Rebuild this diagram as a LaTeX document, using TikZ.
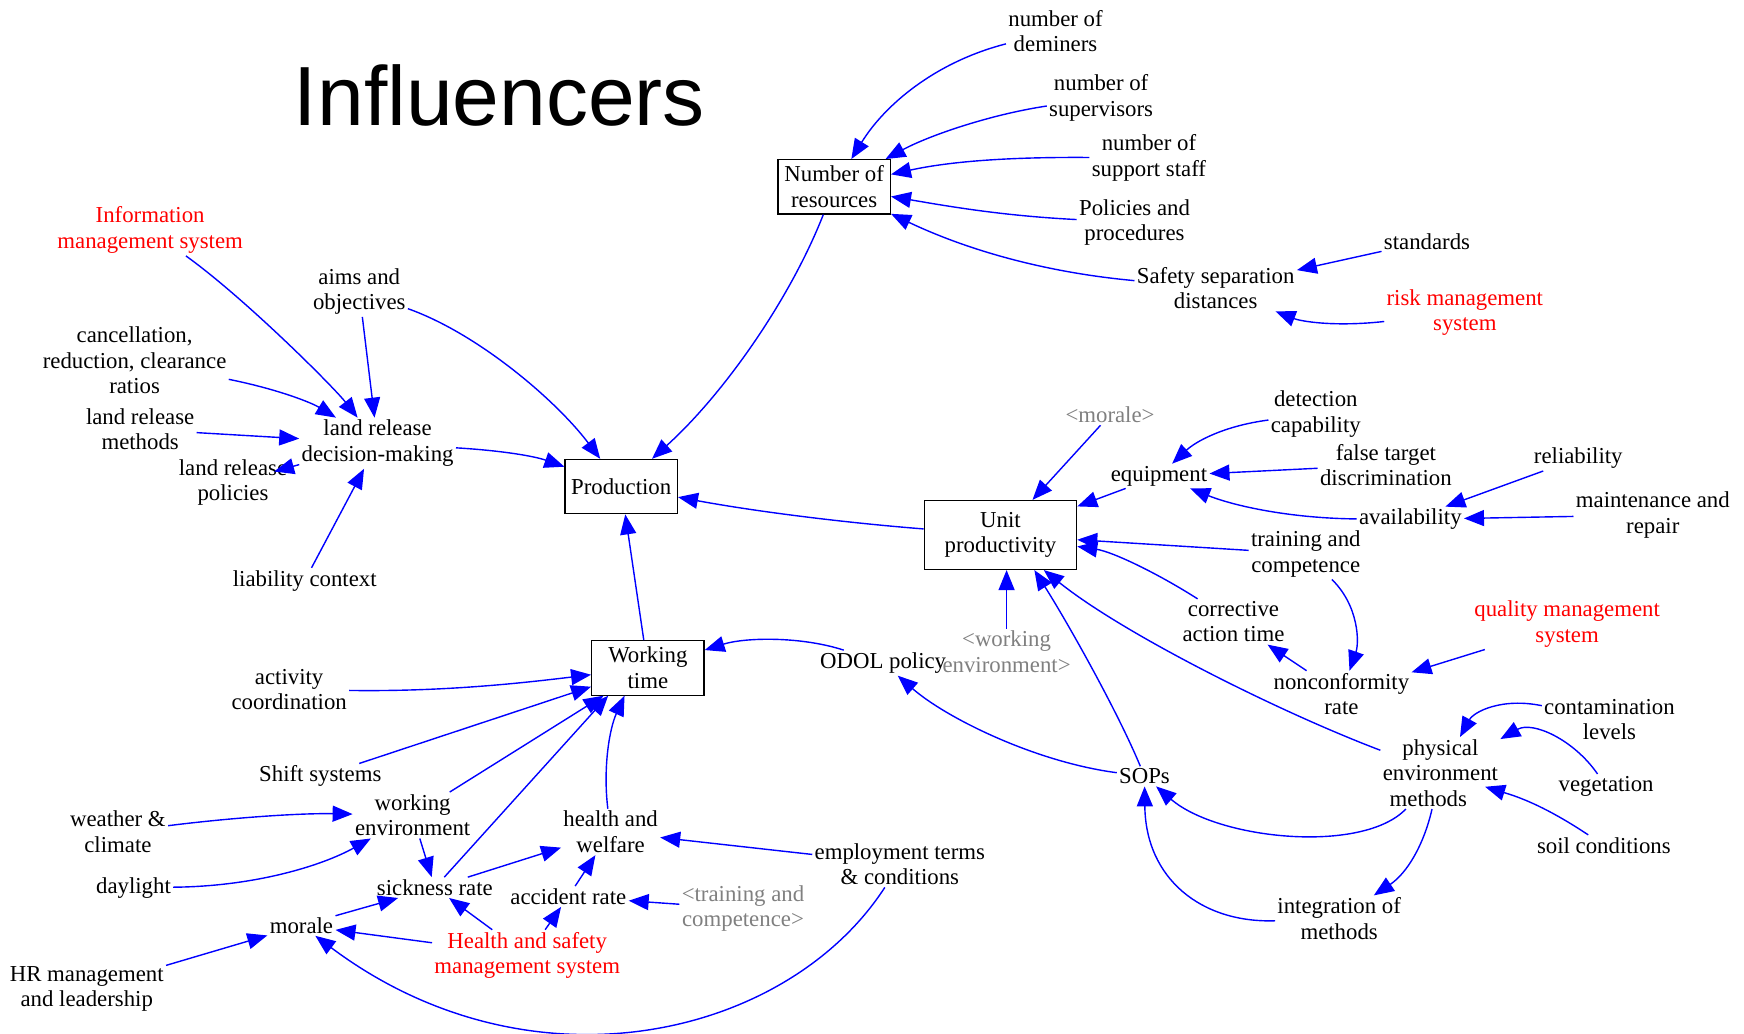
\documentclass[tikz,border=0pt]{standalone}
\usepackage{fontspec}
\setmainfont{Liberation Serif}
\newfontfamily\titlefont{Liberation Sans}
\usetikzlibrary{arrows.meta,calc}
\definecolor{lnk}{RGB}{0,0,255}
\definecolor{redtxt}{RGB}{255,0,0}
\definecolor{graytxt}{RGB}{128,128,128}
\tikzset{
 txt/.style={align=center, inner sep=1pt, font=\fontsize{11.4}{12.8}\selectfont},
 redt/.style={txt, text=redtxt},
 grayt/.style={txt, text=graytxt},
 box/.style={txt, draw, line width=0.6pt, minimum width=56.2pt, minimum height=27.2pt, inner sep=2pt},
 arr/.style={draw=lnk, line width=0.7pt, -{Triangle[length=10pt,width=8pt]}},
}
\begin{document}
\begin{tikzpicture}[x=0.5561pt, y=-0.5561pt]
\fill[white] (0,0) rectangle (1568,929);
\useasboundingbox (0,0) rectangle (1568,929);

\node[anchor=base, inner sep=0pt, font=\titlefont\fontsize{42}{48}\selectfont] (title) at (449,113) {Influencers};

% top cluster
\node[box] (nr) at (750,168) {Number of\\resources};
\node[txt] (dem) at (949,28) {number of\\deminers};
\node[txt] (sup) at (990,88) {number of\\supervisors};
\node[txt] (sst) at (1033,142) {number of\\support staff};
\node[txt] (pol) at (1020,200) {Policies and\\procedures};
\node[txt] (ssd) at (1093,259) {Safety separation\\distances};
\node[txt] (std) at (1283,217) {standards};
\node[redt] (rms) at (1317,281) {risk management\\system};

% left cluster
\node[redt] (ims) at (135,207) {Information\\management system};
\node[txt] (aims) at (323,262) {aims and\\objectives};
\node[txt] (canc) at (121,324) {cancellation,\\reduction, clearance\\ratios};
\node[txt] (lrm) at (126,386) {land release\\methods};
\node[txt] (lrp) at (209.5,434) {land release\\policies};
\node[txt] (lrdm) at (339.5,398.5) {land release\\decision-making};
\node[txt] (liab) at (274,522) {liability context};

\node[box] (prod) at (558.5,437.5) {Production};
\node[box, minimum width=76.2pt, minimum height=34.5pt] (up) at (899.5,481) {Unit\\productivity};
\node[box] (wt) at (582.5,600.5) {Working\\time};

% right cluster
\node[grayt] (morale2) at (998,373) {<morale>};
\node[txt] (equip) at (1042,428) {equipment};
\node[txt] (det) at (1183,372) {detection\\capability};
\node[txt] (ftd) at (1246,418) {false target\\discrimination};
\node[txt] (rel) at (1419,412) {reliability};
\node[txt] (avail) at (1268,467) {availability};
\node[txt] (mr) at (1486,463) {maintenance and\\repair};
\node[txt] (tc) at (1174,498) {training and\\competence};
\node[txt] (cat) at (1109,559) {corrective\\action time};
\node[redt] (qms) at (1409,561) {quality management\\system};
\node[txt] (ncr) at (1206,624) {nonconformity\\rate};
\node[grayt] (we2) at (905,586) {<working\\environment>};
\node[txt] (odol) at (794,596) {ODOL policy};
\node[txt] (sops) at (1029,698) {SOPs};
\node[txt] (pem) at (1295,695) {physical\\environment\\methods\hspace*{12pt}};
\node[txt] (cl) at (1447,647) {contamination\\levels};
\node[txt] (veg) at (1444,707) {vegetation};
\node[txt] (soil) at (1442,760) {soil conditions};
\node[txt] (iom) at (1204,826) {integration of\\methods};

% bottom-left cluster
\node[txt] (ac) at (260,620) {activity\\coordination};
\node[txt] (shift) at (288,698) {Shift systems};
\node[txt] (wenv) at (371,733) {working\\environment};
\node[txt] (wc) at (106,748) {weather \&\\climate};
\node[txt] (day) at (120,798) {daylight};
\node[txt] (sick) at (391,798) {sickness rate};
\node[txt] (hw) at (549,748) {health and\\welfare};
\node[txt] (etc) at (809,777) {employment terms\\\& conditions};
\node[txt] (acc) at (511,806) {accident rate};
\node[grayt] (tc2) at (668,817) {<training and\\competence>};
\node[txt] (mor) at (271,832) {morale};
\node[redt] (hs) at (474,859) {Health and safety\\management system};
\node[txt] (hr) at (78,889) {HR management\\and leadership};

% edges: top cluster
\draw[arr] (dem) .. controls (840,56) and (795,95) .. (nr);
\draw[arr] (sup) .. controls (890,103) and (835,122) .. (nr);
\draw[arr] (sst) .. controls (900,141) and (850,146) .. (nr);
\draw[arr] (pol) .. controls (900,194) and (850,185) .. (nr);
\draw[arr] (ssd) .. controls (940,245) and (870,225) .. (nr);
\draw[arr] (std) -- (ssd);
\draw[arr] (rms) .. controls (1200,294) and (1170,289) .. (ssd);
\draw[arr] (nr) .. controls (710,270) and (650,355) .. (prod);

% edges: left cluster
\draw[arr] (ims) .. controls (220,268) and (300,348) .. (lrdm);
\draw[arr] (aims) -- (lrdm);
\draw[arr] (canc) .. controls (250,350) and (280,362) .. (lrdm);
\draw[arr] (lrm) -- (lrdm);
\draw[arr, shorten >=-8pt] (lrdm) -- (lrp);
\draw[arr] (liab) -- (lrdm);
\draw[arr] (aims) .. controls (430,300) and (500,360) .. (prod);
\draw[arr] (lrdm) .. controls (450,405) and (480,410) .. (prod);

\draw[arr] (up) .. controls (760,470) and (680,460) .. (prod);
\draw[arr] (wt) -- (prod);

% edges: right cluster
\draw[arr] (morale2) -- (up);
\draw[arr] (equip) -- (up);
\draw[arr] (det) .. controls (1100,383) and (1075,397) .. (equip);
\draw[arr] (ftd) -- (equip);
\draw[arr] (avail) .. controls (1160,466) and (1110,455) .. (equip);
\draw[arr] (rel) -- (avail);
\draw[arr] (mr) -- (avail);
\draw[arr] (tc) -- (up);
\draw[arr] (cat) .. controls (1040,515) and (1000,496) .. (up);
\draw[arr] (tc) .. controls (1222,545) and (1222,578) .. (ncr);
\draw[arr] (ncr) -- (cat);
\draw[arr] (qms) -- (ncr);
\draw[arr] (we2) -- (we2 |- up.south);
\draw[arr] (sops) .. controls (1005,640) and (960,560) .. (up.-46);
\draw[arr] (pem) .. controls (1150,640) and (1010,570) .. (up.-39);
\draw[arr] (sops) .. controls (930,685) and (850,645) .. (odol);
\draw[arr] (odol) .. controls (720,572) and (670,573) .. (wt);
\draw[arr] (pem) .. controls (1225,768) and (1095,755) .. (sops);
\draw[arr] (iom) .. controls (1080,830) and (1030,790) .. (sops);
\draw[arr] (pem) .. controls (1280,760) and (1265,785) .. (iom);
\draw[arr] (cl) .. controls (1350,627) and (1325,640) .. (pem);
\draw[arr] (veg) .. controls (1415,665) and (1378,648) .. (pem);
\draw[arr, shorten >=-8pt] (soil) .. controls (1385,722) and (1360,715) .. (pem);

% edges: bottom-left cluster
\draw[arr] (ac) .. controls (400,622) and (470,614) .. (wt);
\draw[arr] (shift) -- (wt);
\draw[arr] (wenv) -- (wt);
\draw[arr] (sick) -- (wt.-145);
\draw[arr] (hw) .. controls (542,690) and (548,655) .. (wt.-130);
\draw[arr] (wc) .. controls (210,735) and (270,731) .. (wenv);
\draw[arr] (day) .. controls (230,797) and (290,778) .. (wenv);
\draw[arr] (wenv) -- (sick);
\draw[arr] (sick) -- (hw);
\draw[arr] (acc) -- (hw);
\draw[arr] (mor) -- (sick);
\draw[arr] (hr) -- (mor);
\draw[arr] (hs) -- (mor);
\draw[arr] (hs) -- (sick);
\draw[arr] (hs) -- (acc);
\draw[arr] (tc2) -- (acc);
\draw[arr] (etc) -- (hw);
\draw[arr] (etc) .. controls (708,933) and (478,987) .. (mor);
\end{tikzpicture}
\end{document}
